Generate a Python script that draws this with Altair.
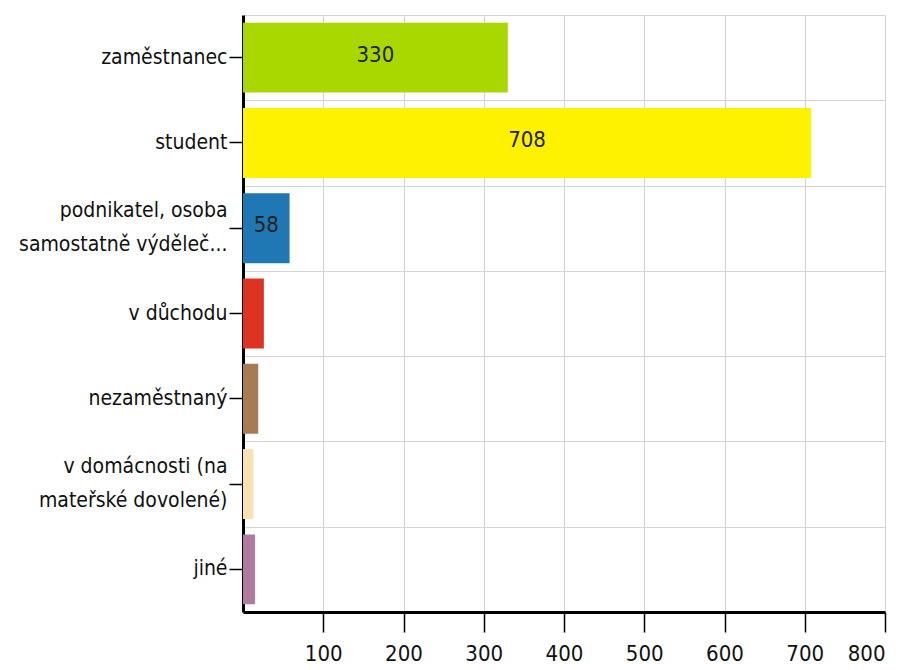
import altair as alt
import pandas as pd

# Respondents by employment status
categories = [
    "zaměstnanec",
    "student",
    "podnikatel, osoba\nsamostatně výděleč...",
    "v důchodu",
    "nezaměstnaný",
    "v domácnosti (na\nmateřské dovolené)",
    "jiné",
]
counts = [330, 708, 58, 26, 19, 13, 15]
bar_colors = ["#a8d800", "#fff200", "#1f78b4", "#dd3322", "#a67c52", "#f8e2b4", "#b07aa1"]
x_ticks = [100, 200, 300, 400, 500, 600, 700, 800]

FONT = "DejaVu Sans Condensed, Liberation Sans Narrow, sans-serif"
GRID = "#d4d4d4"
LINE_HEIGHT = 34

df = pd.DataFrame({"status": categories, "count": counts})

# Bars sit inside rows; half the inner gap is kept above and below each row
bar_scale = alt.Scale(domain=categories, paddingInner=0.18, paddingOuter=0.09)
row_scale = alt.Scale(domain=categories, paddingInner=0, paddingOuter=0)
x_scale = alt.Scale(domain=[0, 800], nice=False)
color_scale = alt.Scale(domain=categories, range=bar_colors)

x_axis = alt.Axis(
    values=x_ticks, title=None, grid=True, gridColor=GRID, gridWidth=1,
    domainColor="#000000", domainWidth=3, tickColor="#000000", tickWidth=1.5,
    tickSize=20, labelPadding=11, labelFont=FONT, labelFontSize=22,
    labelColor="#111111",
)

# Row separators: a full-width band scale whose grid sits on the band edges
row_grid = alt.Chart(df).mark_bar(opacity=0).encode(
    y=alt.Y(
        "status:N", scale=row_scale, sort=categories,
        axis=alt.Axis(
            orient="right", title=None, labels=False, ticks=False, domain=False,
            grid=True, gridColor=GRID, gridWidth=1, tickBand="extent",
        ),
    ),
)

# Two-line labels are lifted by half a line so they centre on their tick
two_line_offset = {
    "condition": {"test": "indexof(datum.value, '\\n') >= 0", "value": -LINE_HEIGHT / 2},
    "value": 0,
}

bars = alt.Chart(df).mark_bar().encode(
    x=alt.X("count:Q", scale=x_scale, axis=x_axis),
    y=alt.Y(
        "status:N", scale=bar_scale, sort=categories,
        axis=alt.Axis(
            title=None, grid=False, domainColor="#000000", domainWidth=3,
            tickColor="#000000", tickWidth=1.5, tickSize=14, labelPadding=2,
            labelFont=FONT, labelFontSize=21, labelColor="#111111",
            labelExpr="split(datum.label, '\\n')", labelLineHeight=LINE_HEIGHT,
            labelOffset=two_line_offset, labelLimit=260,
        ),
    ),
    color=alt.Color("status:N", scale=color_scale, legend=None),
)

value_text = alt.Chart(df).transform_filter(
    alt.datum["count"] >= 50
).transform_calculate(
    mid="datum['count'] / 2"
).mark_text(
    font=FONT, fontSize=22, color="#222222", baseline="middle", align="center",
    dy=-3,
).encode(
    x=alt.X("mid:Q", scale=x_scale, axis=x_axis),
    y=alt.Y("status:N", scale=bar_scale, sort=categories, axis=None),
    text=alt.Text("count:Q"),
)

chart = alt.layer(row_grid, bars, value_text).resolve_scale(
    y="independent"
).resolve_axis(
    y="independent"
).properties(
    width=642,
    height=597,
    autosize=alt.AutoSizeParams(type="none"),
    padding={"left": 243, "top": 15, "right": 16, "bottom": 58},
).configure_view(strokeWidth=0)

chart.save("out.html", embed_options={"renderer": "svg", "actions": False})
